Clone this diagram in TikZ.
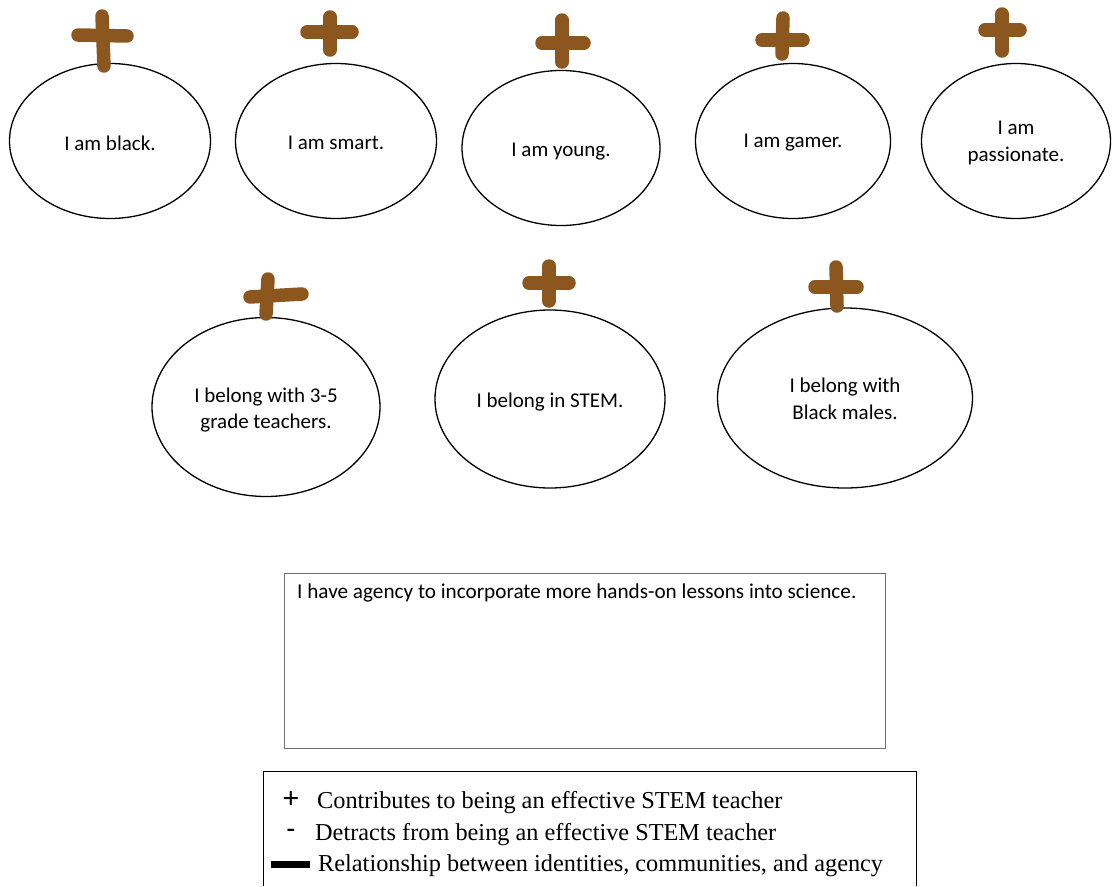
\documentclass[tikz,border=0pt]{standalone}
\usepackage{fontspec}
\setmainfont{Liberation Serif}
\newfontfamily\bodyfont{Carlito}
\usetikzlibrary{shapes.geometric}
\definecolor{plusbrown}{RGB}{139,87,30}
\definecolor{boxgray}{RGB}{110,110,110}
\begin{document}
\begin{tikzpicture}[x=1pt,y=-1pt,
  idbubble/.style={ellipse,draw=black,line width=1.3pt,inner sep=0pt},
  bubtext/.style={inner sep=0pt,font=\bodyfont\fontsize{21}{26.5}\selectfont,align=center},
  plusmark/.style={draw=plusbrown,line width=13.5pt,line cap=round},
  legendtext/.style={anchor=west,inner sep=0pt,font=\fontsize{24.3}{26}\selectfont}]
\useasboundingbox (0,0) rectangle (1116,886);

% identity bubbles, first row
\node[idbubble,minimum width=201pt,minimum height=155pt,
  label={[bubtext,yshift=-2pt]center:I am black.}] (black) at (110,141) {};
\node[idbubble,minimum width=201pt,minimum height=155pt,
  label={[bubtext,yshift=-2pt]center:I am smart.}] (smart) at (336,141) {};
\node[idbubble,minimum width=198pt,minimum height=155pt,
  label={[bubtext,yshift=-4pt]center:I am young.}] (young) at (561,148) {};
\node[idbubble,minimum width=195pt,minimum height=155pt,
  label={[bubtext,yshift=-2pt]center:I am gamer.}] (gamer) at (793,141) {};
\node[idbubble,minimum width=189pt,minimum height=155pt,
  label={[bubtext,yshift=-2pt]center:{I am\\passionate.}}] (passion) at (1016,141) {};

% community bubbles, second row
\node[idbubble,minimum width=228pt,minimum height=179pt,
  label={[bubtext,yshift=-3pt]center:{I belong with 3-5\\grade teachers.}}] (grade) at (266,407) {};
\node[idbubble,minimum width=230pt,minimum height=178pt,
  label={[bubtext,yshift=-3pt]center:I belong in STEM.}] (stem) at (550,399) {};
\node[idbubble,minimum width=255pt,minimum height=180pt,
  label={[bubtext,yshift=-1pt]center:{I belong with\\Black males.}}] (males) at (845,398) {};

% hand-drawn plus marks
\draw[plusmark] (78,35) -- (127,36);
\draw[plusmark] (102,16) -- (104,66);
\draw[plusmark] (307,32) -- (352,32);
\draw[plusmark] (330,17) -- (330,50);
\draw[plusmark] (542,43) -- (584,43);
\draw[plusmark] (562,20) -- (562,62);
\draw[plusmark] (762,40) -- (803,40);
\draw[plusmark] (783,18) -- (782,54);
\draw[plusmark] (985,30) -- (1020,30);
\draw[plusmark] (1002,14) -- (1002,51);
\draw[plusmark] (250,297) -- (302,294);
\draw[plusmark] (268,279) -- (266,314);
\draw[plusmark] (529,283) -- (569,283);
\draw[plusmark] (549,266) -- (549,301);
\draw[plusmark] (815,287) -- (857,287);
\draw[plusmark] (836,267) -- (837,306);

% agency box
\node[draw=boxgray,line width=1pt,minimum width=601pt,minimum height=175pt,
  inner sep=0pt] (agency) at (584.5,660.5) {};
\node[anchor=north west,inner sep=0pt,font=\bodyfont\fontsize{21.2}{24}\selectfont]
  (agencytext) at (297,584) {I have agency to incorporate more hands-on lessons into science.};

% legend
\draw[line width=0.9pt] (263,886) -- (263,771) -- (916,771) -- (916,886);
\node[inner sep=0pt,font=\fontsize{30}{30}\selectfont\bfseries] (kplus) at (291,800) {+};
\node[legendtext] (lplus) at (317,803) {Contributes to being an effective STEM teacher};
\node[inner sep=0pt,font=\fontsize{26}{26}\selectfont\bfseries] (kminus) at (291,833) {-};
\node[legendtext] (lminus) at (315,835) {Detracts from being an effective STEM teacher};
\node[fill=black,minimum width=39pt,minimum height=7pt,inner sep=0pt] (kbar) at (290.5,864.5) {};
\node[legendtext] (lbar) at (318,866) {Relationship between identities, communities, and agency};
\end{tikzpicture}
\end{document}
